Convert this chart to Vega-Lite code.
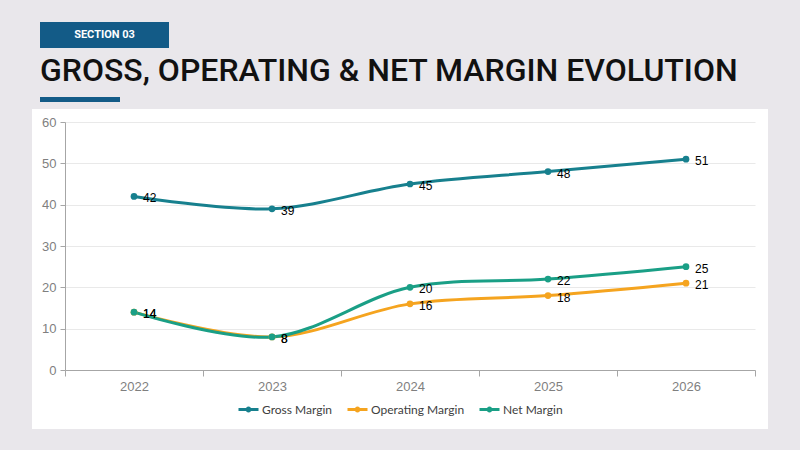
{
  "$schema": "https://vega.github.io/schema/vega-lite/v6.json",
  "background": "#e9e7eb",
  "padding": {"top": 22, "left": 32, "right": 32, "bottom": 21},
  "config": {"view": {"stroke": null}},
  "spacing": 7,
  "vconcat": [
    {
      "spacing": 0,
      "hconcat": [
        {"width": 8, "height": 26, "data": {"values": [{}]}, "mark": {"type": "text", "text": "", "fontSize": 1}, "view": {"fill": null, "stroke": null}},
        {"width": 129, "height": 26, "data": {"values": [{}]}, "view": {"fill": "#135b87", "stroke": null},
         "mark": {"type": "text", "text": "SECTION 03", "color": "white", "font": "Roboto", "fontSize": 11, "fontWeight": "bold", "baseline": "middle", "align": "center"}}
      ]
    },
    {
      "spacing": 0,
      "hconcat": [
        {"width": 8, "height": 5, "data": {"values": [{}]}, "mark": {"type": "text", "text": "", "fontSize": 1}, "view": {"fill": null, "stroke": null}},
        {"width": 80, "height": 5, "data": {"values": [{}]}, "view": {"fill": "#135b87", "stroke": null},
         "title": {"text": "GROSS, OPERATING & NET MARGIN EVOLUTION", "anchor": "start", "frame": "bounds", "font": "Roboto", "fontSize": 32, "fontWeight": 500, "color": "#111111", "offset": 9},
         "mark": {"type": "text", "text": "", "fontSize": 1}}
      ]
    },
    {
      "width": 736,
      "height": 320,
      "view": {"fill": "white", "stroke": null},
      "data": {"values": [
        {"year": "2022", "series": "Gross Margin", "value": 42},
        {"year": "2023", "series": "Gross Margin", "value": 39},
        {"year": "2024", "series": "Gross Margin", "value": 45},
        {"year": "2025", "series": "Gross Margin", "value": 48},
        {"year": "2026", "series": "Gross Margin", "value": 51},
        {"year": "2022", "series": "Operating Margin", "value": 14},
        {"year": "2023", "series": "Operating Margin", "value": 8},
        {"year": "2024", "series": "Operating Margin", "value": 16},
        {"year": "2025", "series": "Operating Margin", "value": 18},
        {"year": "2026", "series": "Operating Margin", "value": 21},
        {"year": "2022", "series": "Net Margin", "value": 14},
        {"year": "2023", "series": "Net Margin", "value": 8},
        {"year": "2024", "series": "Net Margin", "value": 20},
        {"year": "2025", "series": "Net Margin", "value": 22},
        {"year": "2026", "series": "Net Margin", "value": 25}
      ]},
      "encoding": {
        "x": {"field": "year", "type": "ordinal",
              "scale": {"type": "band", "range": [33, 723], "paddingInner": 0, "paddingOuter": 0},
              "axis": {"title": null, "offset": -59, "labelAngle": 0, "tickBand": "extent", "tickSize": 6, "tickColor": "#a6a6a6", "domainColor": "#a6a6a6", "labelColor": "#7f7f7f", "labelFont": "Liberation Sans", "labelFontSize": 13, "labelPadding": 4, "grid": false}},
        "y": {"field": "value", "type": "quantitative",
              "scale": {"domain": [0, 60], "range": [261, 13], "nice": false},
              "axis": {"title": null, "offset": -33, "values": [0, 10, 20, 30, 40, 50, 60], "tickSize": 5, "tickColor": "#a6a6a6", "domainColor": "#a6a6a6", "labelColor": "#7f7f7f", "labelFont": "Liberation Sans", "labelFontSize": 13, "labelPadding": 4, "grid": true, "gridColor": "#e9e9e9"}},
        "color": {"field": "series", "type": "nominal",
                  "scale": {"domain": ["Gross Margin", "Operating Margin", "Net Margin"], "range": ["#17808e", "#f5a41f", "#1a9f86"]},
                  "legend": {"title": null, "orient": "none", "direction": "horizontal", "legendX": 205, "legendY": 376,
                             "symbolType": "M-1,0L1,0M-0.15,0a0.15,0.15 0 1,0 0.3,0a0.15,0.15 0 1,0 -0.3,0",
                             "symbolSize": 400, "symbolStrokeWidth": 3, "labelFont": "Lato", "labelFontSize": 12, "labelColor": "#404040", "columnPadding": 8, "labelOffset": 2}}
      },
      "layer": [
        {"mark": {"type": "line", "interpolate": "catmull-rom", "strokeWidth": 3}},
        {"mark": {"type": "circle", "size": 45, "opacity": 1}},
        {"mark": {"type": "text", "align": "left", "baseline": "middle", "dx": 9, "dy": 2, "font": "Liberation Sans", "fontSize": 12},
         "encoding": {"text": {"field": "value"}, "color": {"value": "#000000"}}}
      ]
    }
  ]
}
